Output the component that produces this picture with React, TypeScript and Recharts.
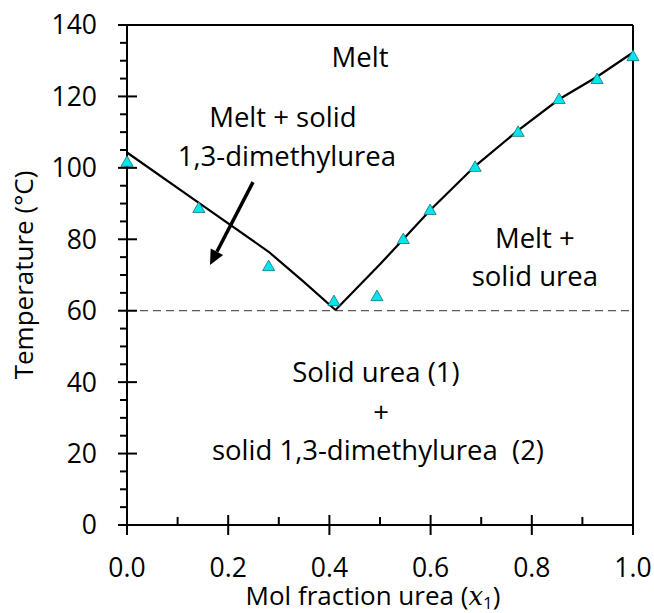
import {
  ComposedChart,
  Line,
  Scatter,
  XAxis,
  YAxis,
  ReferenceLine,
  ReferenceDot,
} from 'recharts';

// measured liquidus points (triangles)
const obsX = [0, 0.142, 0.28, 0.409, 0.494, 0.546, 0.599, 0.688, 0.773, 0.854, 0.929, 1.0];
const obsT = [101.4, 88.5, 72.2, 62.4, 63.8, 79.8, 87.9, 100, 109.8, 119, 124.6, 131];

// model liquidus, 1,3-dimethylurea side
const leftX = [0, 0.142, 0.28, 0.35, 0.412];
const leftT = [104.3, 90.2, 76.5, 68, 60.2];

// model liquidus, urea side
const rightX = [0.412, 0.5, 0.546, 0.6, 0.688, 0.773, 0.854, 0.929, 1.0];
const rightT = [60.2, 73, 80, 88.3, 100.5, 110.5, 119.2, 125.5, 132.3];

const eutecticT = 60;

const xTicks = [0, 0.1, 0.2, 0.3, 0.4, 0.5, 0.6, 0.7, 0.8, 0.9, 1.0];
const yTicks = [0, 5, 10, 15, 20, 25, 30, 35, 40, 45, 50, 55, 60, 65, 70, 75, 80, 85, 90, 95, 100, 105, 110, 115, 120, 125, 130, 135, 140];

// region labels: text, x, baseline temperature
const labelText = ['Melt', 'Melt + solid', '1,3-dimethylurea', 'Melt +', 'solid urea', 'Solid urea (1)', '+', 'solid 1,3-dimethylurea  (2)'];
const labelX = [0.4605, 0.308, 0.316, 0.806, 0.806, 0.492, 0.502, 0.496];
const labelT = [128.3, 111.4, 100.5, 77.6, 66.9, 40.0, 28.8, 18.2];

// arrow from the left label into its region
const arrowFrom = { x: 0.249, y: 96 };
const arrowTo = { x: 0.164, y: 72.8 };

const FONT = '"Open Sans", sans-serif';
const TICK_FS = 26.5;
const LABEL_FS = 27.5;
const TITLE_FS = 26;

const obs = obsX.map((x, i) => ({ x, t: obsT[i] }));
const left = leftX.map((x, i) => ({ x, t: leftT[i] }));
const right = rightX.map((x, i) => ({ x, t: rightT[i] }));

const YTick = (props: any) => {
  const { x, y, payload } = props;
  const major = payload.value % 20 === 0;
  return (
    <g>
      <line x1={major ? x - 9 : x - 7} x2={major ? x + 10 : x} y1={y} y2={y} stroke="#000" strokeWidth={2} />
      {major && (
        <text x={x - 30} y={y + TICK_FS * 0.357} textAnchor="end" fontFamily={FONT} fontSize={TICK_FS} fill="#000">
          {payload.value}
        </text>
      )}
    </g>
  );
};

const XTick = (props: any) => {
  const { x, y, payload } = props;
  const major = Math.round(payload.value * 10) % 2 === 0;
  return (
    <g>
      <line x1={x} x2={x} y1={major ? y - 10 : y - 8} y2={major ? y + 10 : y} stroke="#000" strokeWidth={2} />
      {major && (
        <text x={x} y={y + 52} textAnchor="middle" fontFamily={FONT} fontSize={TICK_FS} fill="#000">
          {payload.value.toFixed(1)}
        </text>
      )}
    </g>
  );
};

const Arrow = (p: any) => {
  const { x1, y1, x2, y2 } = p;
  const dx = x2 - x1;
  const dy = y2 - y1;
  const len = Math.sqrt(dx * dx + dy * dy);
  const ux = dx / len;
  const uy = dy / len;
  const headL = 15;
  const headW = 7;
  const bx = x2 - ux * headL;
  const by = y2 - uy * headL;
  return (
    <g>
      <line x1={x1} y1={y1} x2={bx} y2={by} stroke="#000" strokeWidth={3.5} />
      <polygon
        points={`${x2},${y2} ${bx - uy * headW},${by + ux * headW} ${bx + uy * headW},${by - ux * headW}`}
        fill="#000"
      />
    </g>
  );
};

export default function App() {
  return (
    <div style={{ width: 654, height: 613, background: '#fff' }}>
      <style>{`body{margin:0}`}</style>
      <ComposedChart width={654} height={613} margin={{ top: 25, right: 21, left: 67, bottom: 28 }}>
        <XAxis
          type="number"
          dataKey="x"
          domain={[0, 1]}
          ticks={xTicks}
          interval={0}
          tickSize={0}
          tickMargin={0}
          tick={<XTick />}
          axisLine={{ stroke: '#000', strokeWidth: 2 }}
          tickLine={false}
          height={60}
        />
        <YAxis
          type="number"
          dataKey="t"
          domain={[0, 140]}
          ticks={yTicks}
          interval={0}
          tickSize={0}
          tickMargin={0}
          tick={<YTick />}
          axisLine={{ stroke: '#000', strokeWidth: 2 }}
          tickLine={false}
          width={60}
        />
        <ReferenceLine y={140} stroke="#000" strokeWidth={2} />
        <ReferenceLine x={1} stroke="#000" strokeWidth={2} />
        <ReferenceLine y={eutecticT} stroke="#595959" strokeWidth={1.2} strokeDasharray="8 5" />
        <Line data={left} dataKey="t" type="linear" stroke="#000" strokeWidth={2.2} dot={false} isAnimationActive={false} />
        <Line data={right} dataKey="t" type="linear" stroke="#000" strokeWidth={2.2} dot={false} isAnimationActive={false} />
        <Scatter
          data={obs}
          dataKey="t"
          shape="triangle"
          fill="#00e5ee"
          stroke="#1f6f73"
          strokeWidth={0.8}
          size={72}
          isAnimationActive={false}
        />
        <ReferenceLine segment={[arrowFrom, arrowTo]} shape={<Arrow />} />
        {labelText.map((txt, i) => (
          <ReferenceDot
            key={txt}
            x={labelX[i]}
            y={labelT[i]}
            shape={(p: any) => (
              <text
                x={p.cx}
                y={p.cy}
                textAnchor="middle"
                fontFamily={FONT}
                fontSize={LABEL_FS}
                fill="#000"
                style={{ whiteSpace: 'pre' }}
              >
                {txt}
              </text>
            )}
          />
        ))}
      </ComposedChart>
      <svg width={654} height={613} style={{ position: 'absolute', left: 0, top: 0, pointerEvents: 'none' }}>
        <text
          x={33}
          y={275}
          transform="rotate(-90, 33, 275)"
          textAnchor="middle"
          fontFamily={FONT}
          fontSize={TITLE_FS}
          fill="#000"
        >
          Temperature (°C)
        </text>
        <text x={373} y={605} textAnchor="middle" fontFamily={FONT} fontSize={TITLE_FS} fill="#000">
          Mol fraction urea (
          <tspan fontFamily='"DejaVu Serif", serif' fontStyle="italic">x</tspan>
          <tspan fontSize={17} dy={4}>1</tspan>
          <tspan dy={-4}>)</tspan>
        </text>
      </svg>
    </div>
  );
}
